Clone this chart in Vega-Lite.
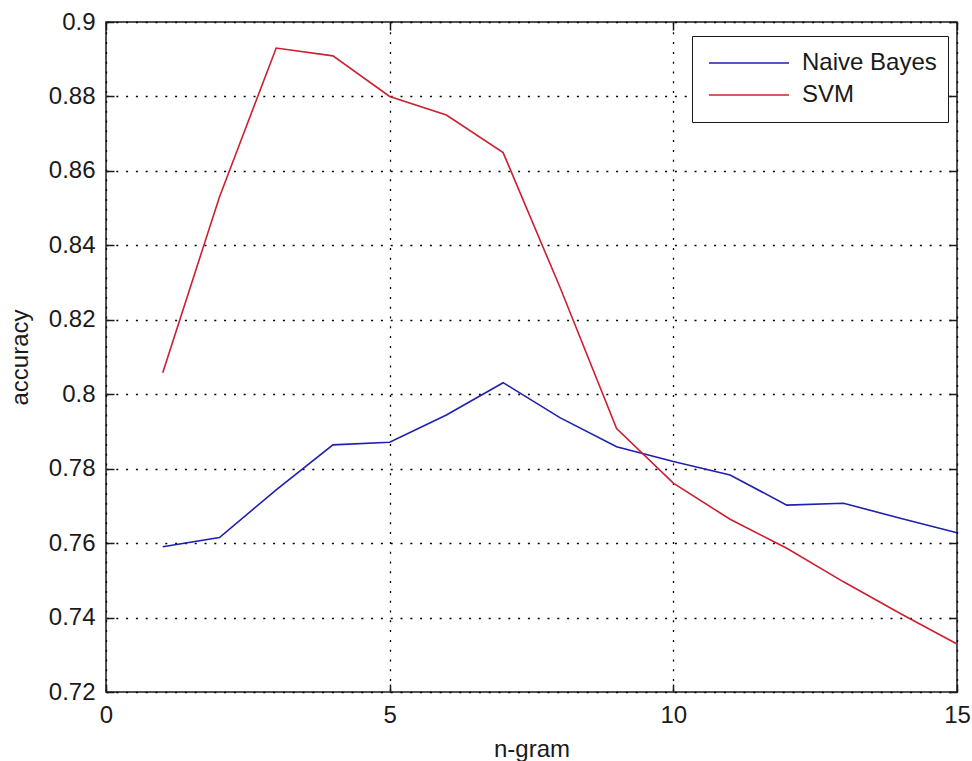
{
  "$schema": "https://vega.github.io/schema/vega-lite/v6.json",
  "width": 851,
  "height": 670,
  "autosize": {"type": "none"},
  "padding": {"left": 106, "top": 22, "right": 15, "bottom": 69},
  "background": "white",
  "config": {
    "view": {"stroke": "#1a1a1a", "strokeWidth": 1.5},
    "font": "Liberation Sans",
    "axis": {
      "labelFont": "Liberation Sans",
      "titleFont": "Liberation Sans",
      "labelFontSize": 24,
      "titleFontSize": 24,
      "titleFontWeight": "normal",
      "labelColor": "#1a1a1a",
      "titleColor": "#1a1a1a",
      "labelFlush": false,
      "domain": false,
      "tickColor": "#1a1a1a",
      "tickWidth": 1.5,
      "gridColor": "#000000",
      "gridOpacity": 1,
      "gridDash": [2, 7.8],
      "gridWidth": 1.3
    }
  },
  "data": {
    "values": [
      {"n": 1, "accuracy": 0.759, "model": "Naive Bayes"},
      {"n": 2, "accuracy": 0.7615, "model": "Naive Bayes"},
      {"n": 3, "accuracy": 0.7743, "model": "Naive Bayes"},
      {"n": 4, "accuracy": 0.7864, "model": "Naive Bayes"},
      {"n": 5, "accuracy": 0.7871, "model": "Naive Bayes"},
      {"n": 6, "accuracy": 0.7944, "model": "Naive Bayes"},
      {"n": 7, "accuracy": 0.8031, "model": "Naive Bayes"},
      {"n": 8, "accuracy": 0.7937, "model": "Naive Bayes"},
      {"n": 9, "accuracy": 0.7859, "model": "Naive Bayes"},
      {"n": 10, "accuracy": 0.7819, "model": "Naive Bayes"},
      {"n": 11, "accuracy": 0.7783, "model": "Naive Bayes"},
      {"n": 12, "accuracy": 0.7702, "model": "Naive Bayes"},
      {"n": 13, "accuracy": 0.7707, "model": "Naive Bayes"},
      {"n": 14, "accuracy": 0.7667, "model": "Naive Bayes"},
      {"n": 15, "accuracy": 0.7628, "model": "Naive Bayes"},
      {"n": 1, "accuracy": 0.8058, "model": "SVM"},
      {"n": 2, "accuracy": 0.853, "model": "SVM"},
      {"n": 3, "accuracy": 0.893, "model": "SVM"},
      {"n": 4, "accuracy": 0.8909, "model": "SVM"},
      {"n": 5, "accuracy": 0.88, "model": "SVM"},
      {"n": 6, "accuracy": 0.875, "model": "SVM"},
      {"n": 7, "accuracy": 0.8649, "model": "SVM"},
      {"n": 8, "accuracy": 0.8288, "model": "SVM"},
      {"n": 9, "accuracy": 0.7908, "model": "SVM"},
      {"n": 10, "accuracy": 0.7761, "model": "SVM"},
      {"n": 11, "accuracy": 0.7664, "model": "SVM"},
      {"n": 12, "accuracy": 0.7586, "model": "SVM"},
      {"n": 13, "accuracy": 0.7496, "model": "SVM"},
      {"n": 14, "accuracy": 0.7411, "model": "SVM"},
      {"n": 15, "accuracy": 0.7329, "model": "SVM"}
    ]
  },
  "layer": [
    {
      "mark": {"type": "line", "strokeWidth": 1.6},
      "encoding": {
        "x": {
          "field": "n",
          "type": "quantitative",
          "scale": {"domain": [0, 15], "nice": false},
          "axis": {
            "orient": "bottom",
            "values": [0, 5, 10, 15],
            "format": "d",
            "title": "n-gram",
            "tickSize": -8,
            "labelPadding": 19,
            "titlePadding": 10,
            "grid": true
          }
        },
        "y": {
          "field": "accuracy",
          "type": "quantitative",
          "scale": {"domain": [0.72, 0.9], "nice": false, "zero": false},
          "axis": {
            "orient": "left",
            "values": [0.72, 0.74, 0.76, 0.78, 0.8, 0.82, 0.84, 0.86, 0.88, 0.9],
            "format": ".2~f",
            "title": "accuracy",
            "tickSize": -8,
            "labelPadding": 19,
            "titlePadding": 16,
            "grid": true
          }
        },
        "color": {
          "field": "model",
          "type": "nominal",
          "scale": {"domain": ["Naive Bayes", "SVM"], "range": ["#1f1fb0", "#cc2030"]},
          "legend": {
            "title": null,
            "orient": "none",
            "legendX": 586,
            "legendY": 14,
            "symbolType": "stroke",
            "symbolSize": 6400,
            "symbolStrokeWidth": 1.6,
            "clipHeight": 32,
            "padding": 11,
            "symbolOffset": 5,
            "labelOffset": 12,
            "labelFontSize": 24,
            "labelFont": "Liberation Sans",
            "labelColor": "#1a1a1a",
            "labelLimit": 300,
            "strokeColor": "#1a1a1a",
            "fillColor": "white",
            "rowPadding": 0,
            "cornerRadius": 0
          }
        }
      }
    },
    {
      "mark": {"type": "line", "opacity": 0},
      "encoding": {
        "x": {
          "field": "n",
          "type": "quantitative",
          "axis": {
            "orient": "top",
            "values": [0, 5, 10, 15],
            "labels": false,
            "title": null,
            "tickSize": -8,
            "grid": false
          }
        },
        "y": {
          "field": "accuracy",
          "type": "quantitative",
          "axis": {
            "orient": "right",
            "values": [0.72, 0.74, 0.76, 0.78, 0.8, 0.82, 0.84, 0.86, 0.88, 0.9],
            "labels": false,
            "title": null,
            "tickSize": -8,
            "grid": false
          }
        },
        "detail": {"field": "model", "type": "nominal"}
      }
    }
  ]
}
